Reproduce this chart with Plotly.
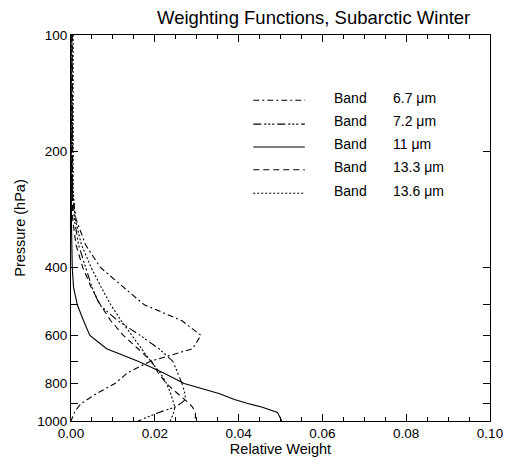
import plotly.graph_objects as go
import math

# ---- data ----
pressure = [100, 150, 200, 250, 300, 350, 400, 450, 500, 550, 600, 650, 700,
            750, 800, 850, 880, 900, 920, 950, 975, 1000]

band_6_7 = [0.0, 0.0, 0.0001, 0.0002, 0.0012, 0.0035, 0.007, 0.0125, 0.0175, 0.0265,
            0.031, 0.029, 0.019, 0.0135, 0.0105, 0.006, 0.0038, 0.0025, 0.0017, 0.0008,
            0.0004, 0.0]
band_7_2 = [0.0002, 0.0003, 0.0003, 0.0004, 0.0008, 0.0018, 0.0035, 0.005, 0.0068, 0.0112,
            0.0165, 0.021, 0.0243, 0.0255, 0.0265, 0.0272, 0.0273, 0.0262, 0.0249, 0.021,
            0.0185, 0.016]
band_11 = [0.0, 0.0, 0.0, 0.0, 0.0001, 0.0002, 0.0003, 0.0006, 0.0015, 0.003,
           0.0045, 0.0085, 0.016, 0.022, 0.027, 0.0355, 0.039, 0.042, 0.0455, 0.0493,
           0.0499, 0.0503]
band_13_3 = [0.0003, 0.0004, 0.0004, 0.0003, 0.0004, 0.0012, 0.0028, 0.0048, 0.007, 0.0095,
             0.0125, 0.016, 0.0192, 0.0208, 0.0228, 0.0255, 0.0272, 0.0282, 0.029, 0.0297,
             0.0297, 0.0295]
band_13_6 = [0.0005, 0.0006, 0.0005, 0.0005, 0.001, 0.0025, 0.0048, 0.0072, 0.0095, 0.012,
             0.0145, 0.017, 0.019, 0.0213, 0.0228, 0.0238, 0.0243, 0.0246, 0.0248, 0.0245,
             0.024, 0.0237]

band_labels = ["6.7 μm", "7.2 μm", "11 μm", "13.3 μm", "13.6 μm"]
series = [band_6_7, band_7_2, band_11, band_13_3, band_13_6]
dashes = ["6px,3px,2px,3px",
          "8px,3px,2px,2px,2px,2px,2px,3px",
          "solid",
          "6px,4px",
          "2px,2px"]

x_ticks = [0.0, 0.02, 0.04, 0.06, 0.08, 0.10]
y_ticks = [100, 200, 400, 600, 800, 1000]
y_minor = [500, 700, 900]

FONT = "Liberation Sans, Arial, Helvetica, sans-serif"

fig = go.Figure()
for vals, dash, lab in zip(series, dashes, band_labels):
    fig.add_trace(go.Scatter(x=vals, y=pressure, mode="lines",
                             line=dict(color="black", width=1.1, dash=dash),
                             name=lab, showlegend=False, hoverinfo="skip"))

# ---- manual legend (paper coordinates) ----
leg_text_y = [0.838, 0.777, 0.718, 0.659, 0.597]
leg_line_y = [0.831, 0.769, 0.710, 0.651, 0.590]
for ty, ly, dash, lab in zip(leg_text_y, leg_line_y, dashes, band_labels):
    fig.add_shape(type="line", xref="paper", yref="paper", x0=0.435, x1=0.558,
                  y0=ly, y1=ly, line=dict(color="black", width=1.1, dash=dash))
    fig.add_annotation(xref="paper", yref="paper", x=0.624, y=ty, text="Band",
                       showarrow=False, xanchor="left", yanchor="middle",
                       font=dict(family=FONT, size=14, color="black"))
    fig.add_annotation(xref="paper", yref="paper", x=0.764, y=ty, text=lab,
                       showarrow=False, xanchor="left", yanchor="middle",
                       font=dict(family=FONT, size=14, color="black"))

fig.add_annotation(xref="paper", yref="paper", x=0.579, y=1.0, yshift=5,
                   text="Weighting Functions, Subarctic Winter", showarrow=False,
                   xanchor="center", yanchor="bottom",
                   font=dict(family=FONT, size=18.5, color="black"))

fig.update_layout(
    width=515, height=465,
    margin=dict(l=71, r=16, t=35, b=40),
    paper_bgcolor="white", plot_bgcolor="white",
    font=dict(family=FONT, size=13.5, color="black"),
    showlegend=False, hovermode=False,
)
fig.update_xaxes(range=[0, 0.1], tickvals=x_ticks, tickformat=".2f",
                 showgrid=False, zeroline=False, showline=True, linecolor="black",
                 linewidth=1, mirror="allticks", ticks="inside", ticklen=7,
                 tickcolor="black",
                 minor=dict(dtick=0.005, ticks="inside", ticklen=4, tickcolor="black",
                            showgrid=False),
                 title=dict(text="Relative Weight", standoff=2,
                            font=dict(family=FONT, size=14.5)))
fig.update_yaxes(type="log", range=[math.log10(1000), math.log10(100)],
                 tickvals=y_ticks, ticktext=[str(v) for v in y_ticks],
                 showgrid=False, zeroline=False, showline=True, linecolor="black",
                 linewidth=1, mirror="allticks", ticks="inside", ticklen=7,
                 tickcolor="black",
                 minor=dict(tickvals=y_minor, ticks="inside", ticklen=7,
                            tickcolor="black", showgrid=False),
                 title=dict(text="Pressure (hPa)", standoff=8,
                            font=dict(family=FONT, size=14.5)))

fig.write_html("out.html",
               config={"displayModeBar": False, "staticPlot": True},
               post_script="document.body.style.margin='0';"
                           "document.body.style.overflow='hidden';")
